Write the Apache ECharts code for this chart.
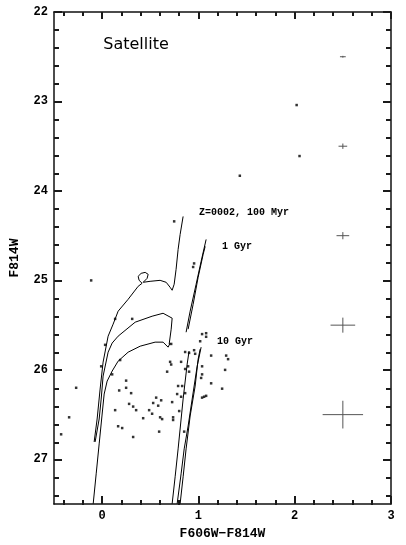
<!DOCTYPE html>
<html><head><meta charset="utf-8">
<script src="https://cdn.jsdelivr.net/npm/echarts@6/dist/echarts.min.js"></script>
<style>html,body{margin:0;padding:0;background:#fff}#c{width:406px;height:545px}</style>
</head><body><div id="c"></div>
<script>
// ---- axis ranges and ticks ----
const X_MIN = -0.5, X_MAX = 3, Y_MIN = 22, Y_MAX = 27.5;
const X_MAJOR = [0, 1, 2, 3];
const X_MINOR = [-0.4, -0.2, 0.2, 0.4, 0.6, 0.8, 1.2, 1.4, 1.6, 1.8, 2.2, 2.4, 2.6, 2.8];
const Y_MAJOR = [22, 23, 24, 25, 26, 27];
const Y_MINOR = [22.2, 22.4, 22.6, 22.8, 23.2, 23.4, 23.6, 23.8, 24.2, 24.4, 24.6, 24.8,
                 25.2, 25.4, 25.6, 25.8, 26.2, 26.4, 26.6, 26.8, 27.2, 27.4];

// ---- isochrones [F606W-F814W, F814W] ----
const ISO_100MYR = [[-0.083,26.805],[-0.052,26.549],[-0.021,26.214],[0.010,25.913],[0.062,25.623],
  [0.114,25.489],[0.166,25.344],[0.270,25.211],[0.374,25.066],[0.415,25.032],[0.384,24.999],
  [0.374,24.954],[0.405,24.921],[0.447,24.910],[0.478,24.932],[0.467,24.977],[0.426,25.021],
  [0.498,25.010],[0.602,24.999],[0.665,25.021],[0.706,25.077],[0.727,25.110],[0.748,25.043],
  [0.768,24.876],[0.789,24.653],[0.810,24.486],[0.841,24.285]];
const ISO_MID_MS = [[-0.073,26.805],[-0.031,26.549],[-0.010,26.326],[0.010,26.069],[0.062,25.802],
  [0.104,25.700],[0.166,25.623],[0.343,25.467],[0.519,25.400],[0.633,25.367],[0.727,25.422],
  [0.717,25.545],[0.696,25.712]];
const ISO_OLD_MS = [[-0.093,27.496],[-0.062,27.162],[-0.031,26.827],[0.000,26.493],[0.021,26.270],
  [0.052,26.125],[0.104,26.013],[0.166,25.902],[0.270,25.802],[0.395,25.735],[0.550,25.690],
  [0.633,25.690],[0.685,25.746],[0.706,25.701]];
const RGB_1GYR_A = [[0.872,25.579],[0.914,25.344],[0.976,25.043],[1.028,24.787],[1.080,24.542]];
const RGB_1GYR_B = [[0.893,25.545],[0.945,25.267],[0.997,24.965],[1.049,24.709],[1.070,24.620]];
const RGB_LOW = [[0.727,27.496],[0.758,27.195],[0.789,26.883],[0.841,26.326],[0.883,25.935],[0.903,25.790]];
const RGB_10GYR_A = [[0.779,27.496],[0.820,27.162],[0.852,26.883],[0.893,26.627],[0.935,26.326],
  [0.987,25.958],[1.028,25.746]];
const RGB_10GYR_B = [[0.810,27.496],[0.841,27.195],[0.872,26.883],[0.914,26.515],[0.966,26.181],
  [0.997,25.880],[1.018,25.768]];

// ---- stars ----
const STAR_COLOR = [0.748,0.955,0.945,-0.114,0.135,0.312,0.031,0.717,-0.010,0.187,0.706,0.717,0.675,
  0.820,0.862,0.862,0.903,0.955,0.966,1.018,1.038,1.080,1.080,1.132,1.288,1.308,1.038,1.038,1.277,
  1.132,1.246,1.038,1.059,1.080,0.249,0.177,0.249,0.301,0.104,-0.270,-0.343,-0.426,0.135,0.280,
  0.322,0.353,0.166,0.208,0.322,0.426,0.488,0.519,0.530,0.561,0.582,0.613,0.602,0.623,0.592,
  0.727,0.737,0.737,0.779,0.800,0.852,0.831,0.789,0.862,0.820,0.903,0.893,1.028,2.02,2.05,1.43];
const STAR_MAG = [24.34,24.81,24.85,25.00,25.43,25.43,25.72,25.71,25.96,25.89,25.91,25.94,26.02,
  25.91,25.99,25.80,25.81,25.78,25.82,25.68,25.60,25.59,25.63,25.84,25.84,25.88,26.05,25.96,26.00,
  26.15,26.21,26.31,26.30,26.29,26.12,26.23,26.20,26.26,26.05,26.20,26.53,26.72,26.45,26.38,
  26.41,26.45,26.63,26.65,26.75,26.54,26.45,26.49,26.37,26.31,26.40,26.34,26.53,26.55,26.69,
  26.36,26.53,26.56,26.27,26.46,26.69,26.18,26.18,26.26,26.30,26.02,25.96,26.09,23.04,23.61,23.83];

// ---- error bars ----
const ERR_COLOR = [2.5, 2.5, 2.5, 2.5, 2.5];
const ERR_MAG = [22.5, 23.5, 24.5, 25.5, 26.5];
const ERR_DCOLOR = [0.03, 0.045, 0.066, 0.128, 0.21];
const ERR_DMAG = [0.01, 0.03, 0.04, 0.084, 0.155];

const LABEL_FONT = 'Liberation Mono';
const AXIS_COLOR = '#111';
const TICK_COLOR = '#1a1a1a';

function xAxis(grid, pos, ticks, len, main) {
  return {
    type: 'value', gridIndex: grid, position: pos, min: X_MIN, max: X_MAX,
    axisLine: { show: main, onZero: false, lineStyle: { color: AXIS_COLOR, width: 1.5 } },
    axisTick: { show: true, inside: true, length: len, customValues: ticks,
      lineStyle: { color: TICK_COLOR, width: 2 } },
    axisLabel: (main && pos === 'bottom') ? { show: true, customValues: X_MAJOR, margin: 6,
      fontFamily: LABEL_FONT, fontWeight: 'bold', fontSize: 12, color: '#000' } : { show: false },
    splitLine: { show: false },
    name: (main && pos === 'bottom') ? 'F606W\u2212F814W' : '',
    nameLocation: 'middle', nameGap: 22,
    nameTextStyle: { fontFamily: LABEL_FONT, fontWeight: 'bold', fontSize: 13, color: '#000' }
  };
}
function yAxis(grid, pos, ticks, len, main) {
  return {
    type: 'value', gridIndex: grid, position: pos, min: Y_MIN, max: Y_MAX, inverse: true,
    axisLine: { show: main, onZero: false, lineStyle: { color: AXIS_COLOR, width: 1.5 } },
    axisTick: { show: true, inside: true, length: len, customValues: ticks,
      lineStyle: { color: TICK_COLOR, width: 2 } },
    axisLabel: (main && pos === 'left') ? { show: true, customValues: Y_MAJOR, margin: 6,
      fontFamily: LABEL_FONT, fontWeight: 'bold', fontSize: 12, color: '#000' } : { show: false },
    splitLine: { show: false },
    name: (main && pos === 'left') ? 'F814W' : '',
    nameLocation: 'middle', nameGap: 33, nameRotate: 90,
    nameTextStyle: { fontFamily: LABEL_FONT, fontWeight: 'bold', fontSize: 13, color: '#000' }
  };
}

const gridBox = { left: 54, right: 15, top: 12, bottom: 40 };

function curve(data) {
  return { type: 'line', xAxisIndex: 0, yAxisIndex: 0, data: data, showSymbol: false,
    symbol: 'none', smooth: false, lineStyle: { color: '#000', width: 1 }, silent: true };
}

const option = {
  animation: false,
  backgroundColor: '#fff',
  grid: [Object.assign({}, gridBox), Object.assign({}, gridBox)],
  xAxis: [
    xAxis(0, 'bottom', X_MAJOR, 8, true),
    xAxis(0, 'top', X_MAJOR, 7, true),
    xAxis(1, 'bottom', X_MINOR, 5, false),
    xAxis(1, 'top', X_MINOR, 4, false)
  ],
  yAxis: [
    yAxis(0, 'left', Y_MAJOR, 8, true),
    yAxis(0, 'right', Y_MAJOR, 8, true),
    yAxis(1, 'left', Y_MINOR, 5, false),
    yAxis(1, 'right', Y_MINOR, 5, false)
  ],
  series: [
    curve(ISO_100MYR), curve(ISO_MID_MS), curve(ISO_OLD_MS),
    curve(RGB_1GYR_A), curve(RGB_1GYR_B), curve(RGB_LOW), curve(RGB_10GYR_A), curve(RGB_10GYR_B),
    {
      type: 'scatter', xAxisIndex: 0, yAxisIndex: 0, symbol: 'rect', symbolSize: 2.5,
      itemStyle: { color: '#000' },
      data: STAR_COLOR.map((c, i) => [c, STAR_MAG[i]])
    },
    {
      type: 'custom', xAxisIndex: 0, yAxisIndex: 0,
      data: ERR_COLOR.map((c, i) => [c, ERR_MAG[i], ERR_DCOLOR[i], ERR_DMAG[i]]),
      renderItem: function (params, api) {
        const x = api.value(0), y = api.value(1), dx = api.value(2), dy = api.value(3);
        const l = api.coord([x - dx, y]), r = api.coord([x + dx, y]);
        const t = api.coord([x, y - dy]), b = api.coord([x, y + dy]);
        const st = { stroke: '#555', lineWidth: 1 };
        return { type: 'group', children: [
          { type: 'line', shape: { x1: l[0], y1: l[1], x2: r[0], y2: r[1] }, style: st },
          { type: 'line', shape: { x1: t[0], y1: t[1], x2: b[0], y2: b[1] }, style: st }
        ] };
      }
    }
  ],
  graphic: [
    { type: 'text', x: 136, y: 45, style: { text: 'Satellite', font: '16px "DejaVu Sans"',
      fill: '#000', align: 'center', verticalAlign: 'middle' } },
    { type: 'text', x: 199, y: 212, style: { text: 'Z=0002, 100 Myr',
      font: 'bold 10px "Liberation Mono"', fill: '#000', align: 'left', verticalAlign: 'middle' } },
    { type: 'text', x: 222, y: 246, style: { text: '1 Gyr',
      font: 'bold 10px "Liberation Mono"', fill: '#000', align: 'left', verticalAlign: 'middle' } },
    { type: 'text', x: 217, y: 341, style: { text: '10 Gyr',
      font: 'bold 10px "Liberation Mono"', fill: '#000', align: 'left', verticalAlign: 'middle' } }
  ]
};

const chart = echarts.init(document.getElementById('c'), null, { renderer: 'canvas' });
chart.setOption(option);
</script>
</body></html>
